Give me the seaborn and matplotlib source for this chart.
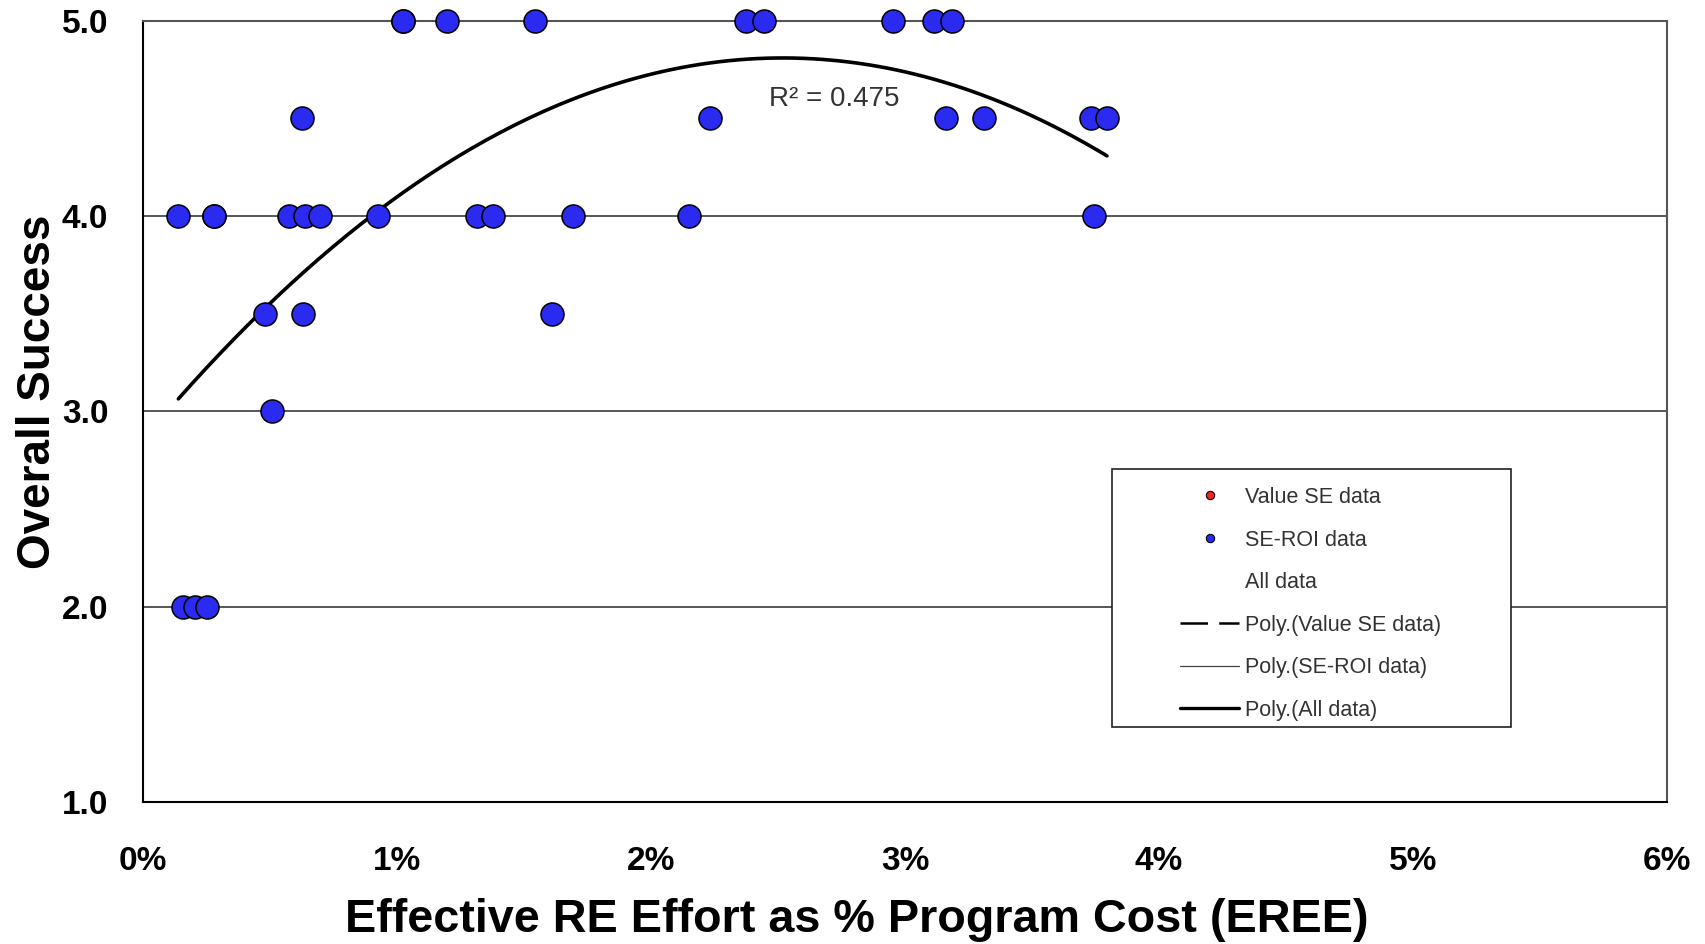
import numpy as np
import matplotlib
matplotlib.use("Agg")
import matplotlib.pyplot as plt
from matplotlib.lines import Line2D
from matplotlib.patches import Rectangle
from matplotlib.ticker import FormatStrFormatter, FuncFormatter
import seaborn as sns

# SE-ROI data points (x = effective RE effort in % of program cost)
eree_pct = [1.022, 1.022, 1.196, 1.543, 2.373, 2.446, 2.952, 3.114, 3.184,
            0.626, 2.232, 3.160, 3.311, 3.732, 3.795,
            0.139, 0.280, 0.280, 0.576, 0.638, 0.697, 0.926, 1.314, 1.379,
            1.694, 2.148, 3.746,
            0.482, 0.631, 1.609,
            0.507,
            0.159, 0.205, 0.253]
success = [5.0, 5.0, 5.0, 5.0, 5.0, 5.0, 5.0, 5.0, 5.0,
           4.5, 4.5, 4.5, 4.5, 4.5, 4.5,
           4.0, 4.0, 4.0, 4.0, 4.0, 4.0, 4.0, 4.0, 4.0,
           4.0, 4.0, 4.0,
           3.5, 3.5, 3.5,
           3.0,
           2.0, 2.0, 2.0]

# quadratic trend for all data (y = a x^2 + b x + c)
trend_coef = [-0.308, 1.552, 2.854]
r2_label = "R\u00b2 = 0.475"

legend_labels = ["Value SE data", "SE-ROI data", "All data",
                 "Poly.(Value SE data)", "Poly.(SE-ROI data)", "Poly.(All data)"]

sns.set_theme(style="white")
plt.rcParams["font.family"] = ["Liberation Sans", "DejaVu Sans"]

fig = plt.figure(figsize=(17.05, 9.44), dpi=100)
ax = fig.add_axes([0.0839, 0.1504, 0.8938, 0.8277])

# horizontal grid
for yv in [2.0, 3.0, 4.0]:
    ax.axhline(yv, color="#2a2a2a", lw=1.1, zorder=1)

sns.scatterplot(x=eree_pct, y=success, s=275, color="#2a2af0",
                edgecolor="black", linewidth=1.1, zorder=4, ax=ax,
                legend=False, clip_on=False)

xs = np.linspace(min(eree_pct), max(eree_pct), 200)
ys = np.polyval(trend_coef, xs)
sns.lineplot(x=xs, y=ys, color="black", lw=2.6, sort=False, estimator=None,
             zorder=3, ax=ax)

ax.text(2.72, 4.60, r2_label, fontsize=20, color="#333333",
        ha="center", va="center", zorder=5)

ax.set_xlim(0, 6)
ax.set_ylim(1, 5)
ax.set_xticks(range(0, 7))
ax.set_yticks([1, 2, 3, 4, 5])
ax.xaxis.set_major_formatter(FuncFormatter(lambda v, p: "%d%%" % v))
ax.yaxis.set_major_formatter(FormatStrFormatter("%.1f"))
ax.tick_params(axis="both", direction="out", length=8, width=1.2,
               color="black", labelsize=24, labelcolor="black")
ax.tick_params(axis="x", pad=24)
ax.tick_params(axis="y", pad=17)
plt.setp(ax.get_xticklabels() + ax.get_yticklabels(), fontweight="bold")

for side in ["left", "bottom"]:
    ax.spines[side].set_color("black")
    ax.spines[side].set_linewidth(1.5)
for side in ["top", "right"]:
    ax.spines[side].set_color("#555555")
    ax.spines[side].set_linewidth(1.5)

ax.set_xlabel("Effective RE Effort as % Program Cost (EREE)",
              fontsize=33.7, fontweight="bold", color="black")
ax.xaxis.set_label_coords(0.4685, -0.151)
ax.xaxis.label.set_va("center")
ax.set_ylabel("Overall Success", fontsize=33, fontweight="bold", color="black")
ax.yaxis.set_label_coords(-0.0688, 0.525)
ax.yaxis.label.set_va("center")

# legend box (Excel style, wide padding)
ax.add_patch(Rectangle((0.6356, 0.0964), 0.2618, 0.3294, transform=ax.transAxes,
                       facecolor="white", edgecolor="#222222", lw=1.2, zorder=6))
handles = [
    Line2D([], [], ls="none", marker="o", ms=6, mfc="#ff2020", mec="black", mew=0.8),
    Line2D([], [], ls="none", marker="o", ms=6, mfc="#2a2af0", mec="black", mew=0.8),
    Line2D([], [], ls="none"),
    Line2D([], [], color="black", lw=1.8, ls=(0, (11, 4.5))),
    Line2D([], [], color="#444444", lw=0.9),
    Line2D([], [], color="black", lw=2.4),
]
leg = ax.legend(handles, legend_labels, loc="upper center",
                bbox_to_anchor=(0.7663, 0.4032), frameon=False,
                fontsize=15.5, labelcolor="#333333", borderpad=0,
                borderaxespad=0, handlelength=2.7, handletextpad=0.3,
                labelspacing=1.0)
leg.set_zorder(7)

fig.savefig("out.png", dpi=100, facecolor="white")
